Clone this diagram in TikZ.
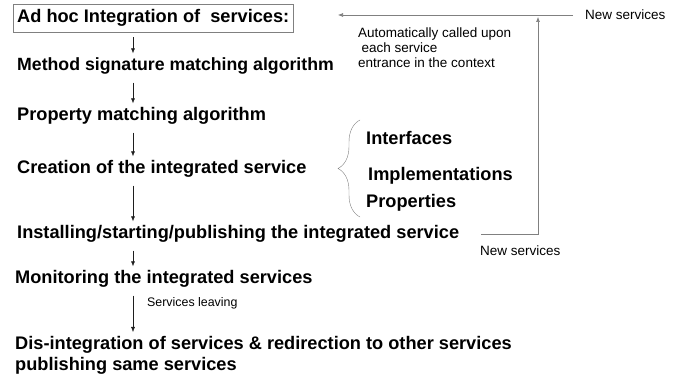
\documentclass[tikz,border=0pt]{standalone}
\usepackage{fontspec}
\setmainfont{Liberation Sans}
\usetikzlibrary{arrows.meta,decorations.pathreplacing}
\definecolor{mydark}{RGB}{30,30,30}
\definecolor{mygray}{RGB}{128,128,128}
\tikzstyle{stepnode}=[anchor=west,font=\fontsize{18.2}{21}\selectfont\bfseries,inner xsep=0pt,inner ysep=3pt,text height=13pt,text depth=4pt]
\tikzstyle{note}=[anchor=west,font=\fontsize{13.5}{15}\selectfont,inner sep=0pt,align=left]
\tikzstyle{flow}=[-{Latex[length=5pt,width=4pt]},draw=mydark,line width=0.5pt,shorten <=5pt,shorten >=1pt]
\tikzstyle{link}=[-{Latex[length=5pt,width=4pt]},draw=mygray,line width=0.6pt]

\begin{document}
\begin{tikzpicture}[x=1pt,y=-1pt]
\useasboundingbox (0,0) rectangle (686,379);
\coordinate (ax) at (133,0);
% main steps
\draw (13,18) node [stepnode, draw=mygray, inner xsep=4pt, inner ysep=5.5pt] (title) {Ad hoc Integration of\ \ services:};
\draw (17,66) node [stepnode, font=\fontsize{17.7}{21}\selectfont\bfseries] (method) {Method signature matching algorithm};
\draw (17,116) node [stepnode] (prop) {Property matching algorithm};
\draw (17,169) node [stepnode] (create) {Creation of the integrated service};
\draw (17,234) node [stepnode] (install) {Installing/starting/publishing the integrated service};
\draw (15,279) node [stepnode] (monitor) {Monitoring the integrated services};
\draw (15,333) node [stepnode, anchor=north west, text height=, text depth=, align=left] (disint) {Dis-integration of services \& redirection to other services\\publishing same services};
\draw[flow] (title.south -| ax) -- (method.north -| ax);
\draw[flow] (method.south -| ax) -- (prop.north -| ax);
\draw[flow] (prop.south -| ax) -- (create.north -| ax);
\draw[flow] (create.south -| ax) -- (install.north -| ax);
\draw[flow] (install.south -| ax) -- (monitor.north -| ax);
\draw[flow] (monitor.south -| ax) -- (disint.north -| ax);
\draw (147,303) node [note, font=\fontsize{12.4}{14}\selectfont] (leave) {Services leaving};
% parts of the integrated service
\draw[mygray, decorate, decoration={brace, amplitude=22pt}] (360,217) -- (360,120);
\draw (366,140) node [stepnode] (iface) {Interfaces};
\draw (368,176) node [stepnode] (impl) {Implementations};
\draw (366,203) node [stepnode] (props) {Properties};
% new services loop
\draw (585,15) node [note] (newtop) {New services};
\draw (358,48) node [note] (auto) {Automatically called upon\\\hspace*{0.25em}each service\\entrance in the context};
\coordinate (tip) at (338,15);
\coordinate (up) at (538,17);
\draw[link, shorten <=12pt] (newtop.west) -- (tip);
\draw[link, shorten <=22pt] (install.east) -- (install.east -| up) -- (up);
\draw (480,251) node [note] (newlow) {New services};
\end{tikzpicture}
\end{document}
